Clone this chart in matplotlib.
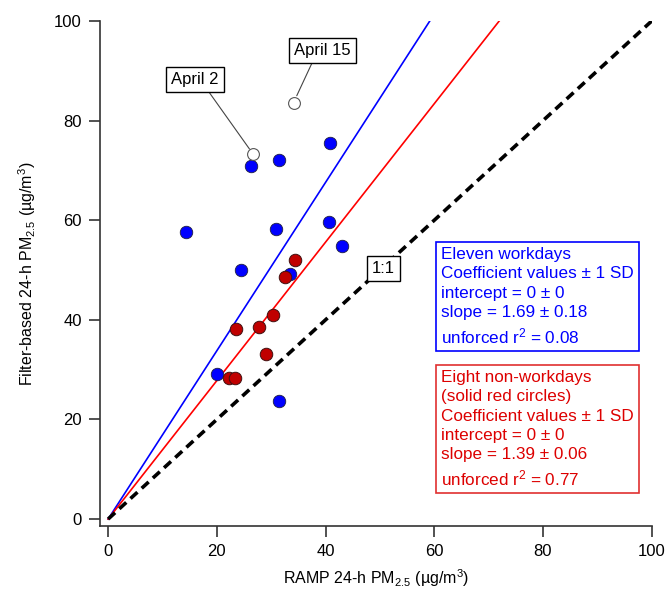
import matplotlib.pyplot as plt

plt.rcParams['font.family'] = ['Liberation Sans', 'DejaVu Sans']
plt.rcParams['mathtext.fontset'] = 'custom'
plt.rcParams['mathtext.rm'] = 'Liberation Sans'
plt.rcParams['mathtext.it'] = 'Liberation Sans:italic'

# workdays (blue)
work_x = [14.4, 26.3, 31.4, 40.9, 30.8, 40.6, 43.0, 24.4, 33.5, 20.0, 31.4]
work_y = [57.7, 70.8, 72.0, 75.6, 58.3, 59.7, 54.9, 50.0, 49.2, 29.2, 23.6]

# non-workdays (red)
off_x = [34.4, 32.5, 30.4, 27.7, 23.5, 29.0, 22.2, 23.3]
off_y = [52.1, 48.6, 40.9, 38.6, 38.2, 33.1, 28.3, 28.3]

# excluded days (open circles)
open_x = [26.7, 34.1]
open_y = [73.2, 83.6]
open_labels = ['April 2', 'April 15']

slope_work = 1.69
slope_off = 1.39

fig = plt.figure(figsize=(6.66, 5.99), dpi=100)
ax = fig.add_axes([100 / 666, 73 / 599, 551.7 / 666, 505 / 599])

# fit lines through origin up to y = 100
ax.plot([0, 100 / slope_work], [0, 100], color='#0000ff', lw=1.2, zorder=2)
ax.plot([0, 100 / slope_off], [0, 100], color='#ff0000', lw=1.2, zorder=2)
ax.plot([0, 100], [0, 100], color='black', lw=2.6, ls=(0, (2.6, 1.6)), zorder=2)

ax.plot(work_x, work_y, 'o', ms=9, mfc='#0000ff', mec='#202040', mew=0.6, zorder=3)
ax.plot(off_x, off_y, 'o', ms=9, mfc='#c00000', mec='#401010', mew=0.7, zorder=4)
ax.plot(open_x, open_y, 'o', ms=8.5, mfc='white', mec='#555555', mew=0.8, zorder=4)

# callouts
box = dict(boxstyle='square,pad=0.3', fc='white', ec='black', lw=1)
ax.annotate(open_labels[0], xy=(26.0, 74.3), xytext=(16.0, 88.2), fontsize=12,
            ha='center', va='center', bbox=box,
            arrowprops=dict(arrowstyle='-', color='#444444', lw=0.8,
                            relpos=(0.72, 0), shrinkA=0, shrinkB=0))
ax.annotate(open_labels[1], xy=(34.7, 85.0), xytext=(39.4, 94.1), fontsize=12,
            ha='center', va='center', bbox=box,
            arrowprops=dict(arrowstyle='-', color='#444444', lw=0.8,
                            relpos=(0.36, 0), shrinkA=0, shrinkB=0))
ax.text(50.7, 50.4, '1:1', fontsize=12, ha='center', va='center', bbox=box, zorder=5)

blue_txt = ('Eleven workdays\nCoefficient values ± 1 SD\nintercept = 0 ± 0\n'
            'slope = 1.69 ± 0.18\nunforced r$^{2}$ = 0.08')
red_txt = ('Eight non-workdays\n(solid red circles)\nCoefficient values ± 1 SD\n'
           'intercept = 0 ± 0\nslope = 1.39 ± 0.06\nunforced r$^{2}$ = 0.77')
fig.text(441 / 666, 1 - 247 / 599, blue_txt, fontsize=12.3, color='#0000ff',
         ha='left', va='top', linespacing=1.36,
         bbox=dict(boxstyle='square,pad=0.3', fc='white', ec='#0000ff', lw=1.2))
fig.text(441 / 666, 1 - 370 / 599, red_txt, fontsize=12.3, color='#dd0000',
         ha='left', va='top', linespacing=1.36,
         bbox=dict(boxstyle='square,pad=0.3', fc='white', ec='#e03030', lw=1.2))

ax.set_xlim(-1.5, 100)
ax.set_ylim(-1.4, 100)
ax.set_xticks([0, 20, 40, 60, 80, 100])
ax.set_yticks([0, 20, 40, 60, 80, 100])
for s in ['top', 'right']:
    ax.spines[s].set_visible(False)
for s in ['left', 'bottom']:
    ax.spines[s].set_color('#333333')
    ax.spines[s].set_linewidth(1.2)
ax.tick_params(length=8, width=1.2, color='#333333', labelsize=12, pad=5)

ax.set_xlabel(r'RAMP 24-h PM$_{2.5}$ (µg/m$^{3}$)', fontsize=11.5, labelpad=6)
ax.set_ylabel(r'Filter-based 24-h PM$_{2.5}$ (µg/m$^{3}$)', fontsize=11.5, labelpad=12)

fig.savefig('out.png', dpi=100)
